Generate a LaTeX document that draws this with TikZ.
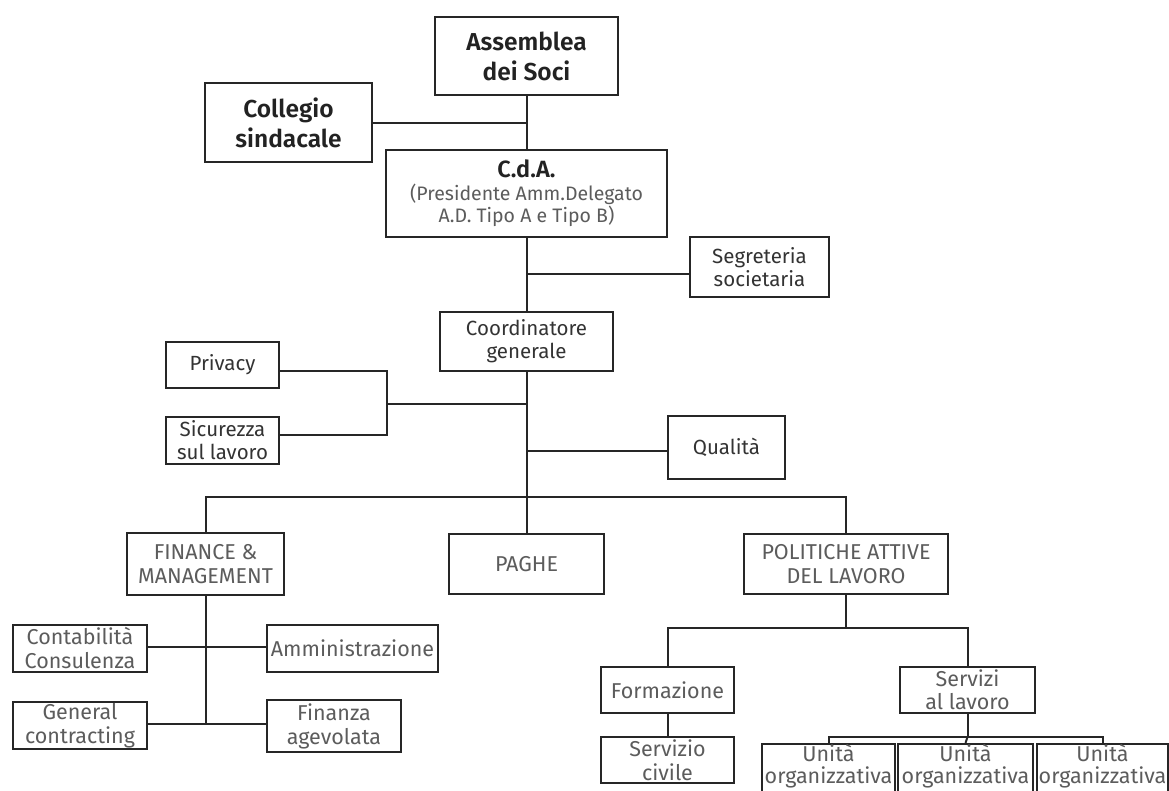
\documentclass[tikz,border=0pt]{standalone}
\usepackage{fontspec}
\setmainfont{Fira Sans}[BoldFont={Fira Sans SemiBold}]
\definecolor{txtdark}{HTML}{222222}
\definecolor{txtmid}{HTML}{333333}
\definecolor{txtlight}{HTML}{5C5C5C}
\definecolor{linec}{HTML}{262626}
\begin{document}
\begin{tikzpicture}[x=1pt,y=-1pt,
  box/.style={draw=linec, line width=2.4pt, rectangle, inner sep=0pt, align=center, fill=white},
  big/.style={box, font=\fontsize{24.5}{30}\selectfont\bfseries, text=txtdark},
  mid/.style={box, font=\fontsize{20.5}{23}\selectfont, text=txtmid},
  lite/.style={box, font=\fontsize{21.5}{24}\selectfont, text=txtlight},
  unit/.style={lite, font=\fontsize{21.5}{22}\selectfont, minimum height=60pt},
  conn/.style={draw=linec, line width=2pt}]
\useasboundingbox (0,0) rectangle (1169,790);
\clip (0,0) rectangle (1169,790);

% nodes
\node[big, minimum width=183pt, minimum height=78pt] (ass) at (526.5,56) {Assemblea\\dei Soci};
\node[big, minimum width=167pt, minimum height=79pt] (col) at (288.5,122.5) {Collegio\\sindacale};
\node[box, minimum width=281pt, minimum height=87pt, font=\fontsize{19.5}{22}\selectfont, text=txtlight] (cda) at (526.5,193.5)
  {{\fontsize{23.5}{26}\selectfont\bfseries\color{txtdark}C.d.A.}\\[1pt]
   (Presidente Amm.Delegato\\
   A.D. Tipo A e Tipo B)};
\node[mid, minimum width=139pt, minimum height=60pt] (seg) at (759.5,267) {Segreteria\\societaria};
\node[mid, minimum width=173pt, minimum height=59pt] (coo) at (526.5,341.5) {Coordinatore\\generale};
\node[mid, minimum width=113pt, minimum height=46pt] (priv) at (222.5,365) {Privacy};
\node[mid, minimum width=113pt, minimum height=47pt] (sic) at (222.5,440.5) {Sicurezza\\sul lavoro};
\node[mid, minimum width=117pt, minimum height=63pt] (qual) at (726.5,447.5) {Qualità};
\node[lite, minimum width=157pt, minimum height=62pt] (fin) at (205.5,564) {FINANCE \&\\MANAGEMENT};
\node[lite, minimum width=155pt, minimum height=60pt] (pag) at (526.5,564) {PAGHE};
\node[lite, minimum width=204pt, minimum height=60pt] (pol) at (846,564) {POLITICHE ATTIVE\\DEL LAVORO};
\node[lite, minimum width=134pt, minimum height=47pt] (cont) at (80,648.5) {Contabilità\\Consulenza};
\node[lite, minimum width=171pt, minimum height=47pt] (amm) at (352.5,648.5) {Amministrazione};
\node[lite, minimum width=134pt, minimum height=47pt] (gen) at (80,725.5) {General\\contracting};
\node[lite, minimum width=134pt, minimum height=52pt] (fina) at (334,726) {Finanza\\agevolata};
\node[lite, minimum width=133pt, minimum height=46pt] (form) at (667.5,690) {Formazione};
\node[lite, minimum width=133pt, minimum height=46pt] (sc) at (667.5,760) {Servizio\\civile};
\node[lite, minimum width=135pt, minimum height=46pt, font=\fontsize{21.5}{23}\selectfont] (serv) at (967.5,690) {Servizi\\al lavoro};
\node[unit, minimum width=133pt] (u1) at (828.5,778) {Unità\\organizzativa\\\strut};
\node[unit, minimum width=135pt] (u2) at (965.5,778) {Unità\\organizzativa\\\strut};
\node[unit, minimum width=131pt] (u3) at (1102.5,778) {Unità\\organizzativa\\\strut};

% junction coordinates
\coordinate (jcol) at (526.5,123);
\coordinate (jseg) at (526.5,274);
\coordinate (jst) at (526.5,404);
\coordinate (jq) at (526.5,451);
\coordinate (pr) at (387,371);
\coordinate (sr) at (387,435);
\coordinate (sm) at (387,404);
\coordinate (bus) at (526.5,497);
\coordinate (pbus) at (846,628);
\coordinate (sbus) at (967.5,737);
\coordinate (fj1) at (205.5,647);
\coordinate (fj2) at (205.5,724);

% connectors
\draw[conn] (ass.south) -- (cda.north);
\draw[conn] (jcol -| col.east) -- (jcol);
\draw[conn] (cda.south) -- (coo.north);
\draw[conn] (jseg -| seg.west) -- (jseg);
\draw[conn] (coo.south) -- (pag.north);
\draw[conn] (pr -| priv.east) -- (pr) -- (sr) -- (sr -| sic.east);
\draw[conn] (sm) -- (jst);
\draw[conn] (jq) -- (jq -| qual.west);
\draw[conn] (fin.north) |- (bus) -| (pol.north);
\draw[conn] (fin.south) -- (fj2);
\draw[conn] (fj1 -| cont.east) -- (fj1 -| amm.west);
\draw[conn] (fj2 -| gen.east) -- (fj2 -| fina.west);
\draw[conn] (pol.south) -- (pbus);
\draw[conn] (form.north) |- (pbus) -| (serv.north);
\draw[conn] (form.south) -- (sc.north);
\draw[conn] (serv.south) -- (sbus);
\draw[conn] (u1.north) |- (sbus) -| (u3.north);
\draw[conn] (sbus) -- (u2.north);
\end{tikzpicture}
\end{document}
